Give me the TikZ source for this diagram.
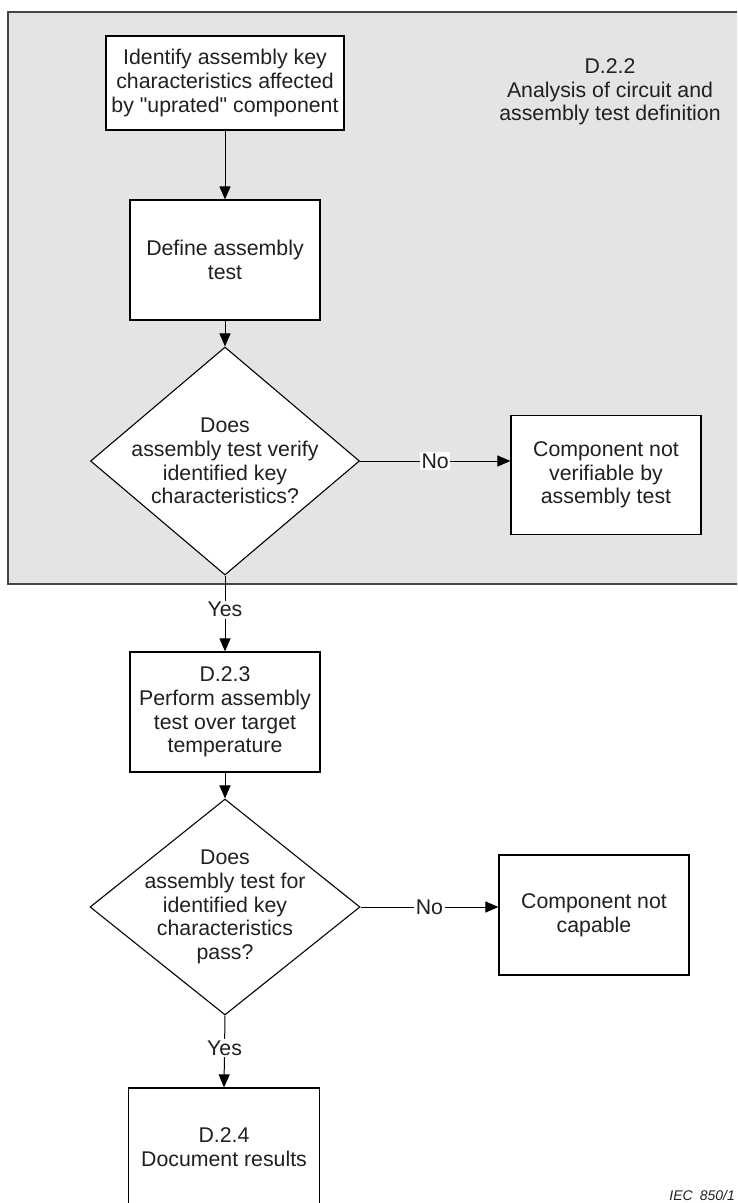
\documentclass[tikz,border=0pt]{standalone}
\usepackage{fontspec}
\setmainfont{Liberation Sans}[Ligatures=TeXOff]
\usetikzlibrary{arrows.meta,shapes.geometric}

\definecolor{panelgrey}{HTML}{E4E4E4}
\definecolor{panelline}{HTML}{454545}
\definecolor{ink}{HTML}{202020}

\tikzset{
  x=1pt, y=-1pt,
  every node/.style={font=\fontsize{21.3}{23.6}\selectfont, text=ink},
  stepbox/.style={draw=black, line width=1.2pt, fill=white, align=center,
    inner sep=0pt},
  decision/.style={diamond, draw=black, line width=1.1pt, fill=white,
    inner sep=0pt},
  flow/.style={line width=1pt, -{Triangle[length=13pt,width=11pt]}},
  lbl/.style={fill=white, inner sep=1.5pt, align=center},
}

\begin{document}
\begin{tikzpicture}
\useasboundingbox (0,0) rectangle (737,1203);
\clip (0,0) rectangle (737,1203);

% shaded panel for D.2.2 (open to the right)
\fill[panelgrey] (8,12) rectangle (745,584);
\draw[panelline, line width=1.1pt] (745,12) -- (8,12) -- (8,584) -- (745,584);

\node[align=center] (title) at (610,92)
  {D.2.2\\Analysis of circuit and\\assembly test definition};

% main column
\node[stepbox, minimum width=238pt, minimum height=94pt] (ident) at (225,83)
  {Identify assembly key\\characteristics affected\\by "uprated" component};
\node[stepbox, minimum width=190pt, minimum height=120pt] (define) at (225,260)
  {Define assembly\\test};
\node[decision, minimum width=269pt, minimum height=228pt] (verify) at (225,461) {};
\node[align=center] (verifytext) at (verify.center)
  {Does\\assembly test verify\\identified key\\characteristics?};
\node[stepbox, minimum width=190pt, minimum height=119pt] (notver) at (606,475)
  {Component not\\verifiable by\\assembly test};

\node[stepbox, minimum width=190pt, minimum height=120pt] (perform) at (225,712)
  {D.2.3\\Perform assembly\\test over target\\temperature};
\node[decision, minimum width=270pt, minimum height=216pt] (pass) at (225,907) {};
\node[align=center] (passtext) at (pass.center)
  {Does\\assembly test for\\identified key\\characteristics\\pass?};
\node[stepbox, minimum width=190pt, minimum height=120pt] (notcap) at (594,915)
  {Component not\\capable};

\node[stepbox, minimum width=191pt, minimum height=118pt] (docres) at (224,1147)
  {D.2.4\\Document results};

% connectors
\draw[flow] (ident) -- (define);
\draw[flow] (define) -- (verify);
\draw[flow] (verify.east) -- node[lbl] {No} (verify.east -| notver.west);
\draw[flow] (verify.south) -- node[lbl, pos=0.45] {Yes} (perform.north);
\draw[flow] (perform) -- (pass);
\draw[flow] (pass.east) -- node[lbl] {No} (pass.east -| notcap.west);
\draw[flow] (pass.south) -- node[lbl, pos=0.45] {Yes} (docres.north);

% figure reference in the lower right corner
\node[anchor=south east, inner sep=0pt,
  font=\fontsize{14}{14}\itshape\selectfont] (ref) at (735,1201) {IEC\,\,\,850/1};
\end{tikzpicture}
\end{document}
